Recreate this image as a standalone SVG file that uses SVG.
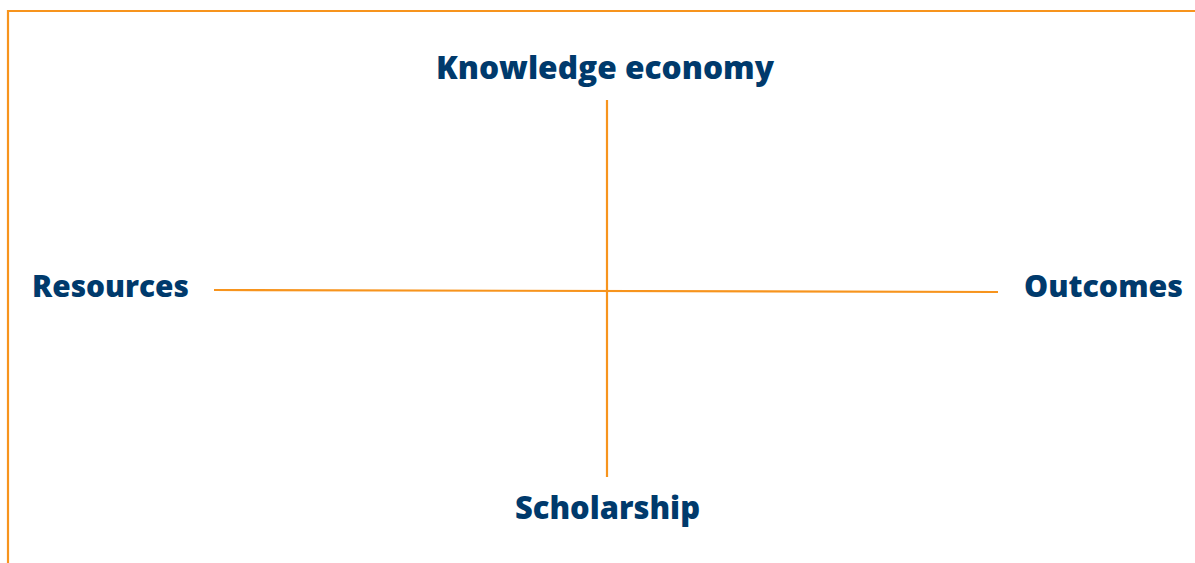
<svg xmlns="http://www.w3.org/2000/svg" width="1195" height="563" viewBox="0 0 1195 563">
<style>
.lbl{font-family:"Open Sans","Noto Sans","Liberation Sans",sans-serif;font-weight:800;fill:#003a6c;}
.ln{stroke:#f7941d;stroke-width:2.2;fill:none;}
</style>
<rect width="1195" height="563" fill="#ffffff"/>
<g id="frame"><path class="ln" d="M8,563 V11 H1195" stroke-width="2.6"/></g>
<g id="connectors">
<line class="ln" x1="607" y1="100" x2="607" y2="477"/>
<line class="ln" x1="214" y1="290" x2="998" y2="292"/>
</g>
<g id="knowledge"><text class="lbl" x="436" y="79" font-size="31" textLength="338" lengthAdjust="spacingAndGlyphs">Knowledge economy</text></g>
<g id="resources"><text class="lbl" x="32" y="297" font-size="30" textLength="157" lengthAdjust="spacingAndGlyphs">Resources</text></g>
<g id="outcomes"><text class="lbl" x="1024" y="297" font-size="30" textLength="159" lengthAdjust="spacingAndGlyphs">Outcomes</text></g>
<g id="scholarship"><text class="lbl" x="515" y="519" font-size="31" textLength="185" lengthAdjust="spacingAndGlyphs">Scholarship</text></g>
</svg>
